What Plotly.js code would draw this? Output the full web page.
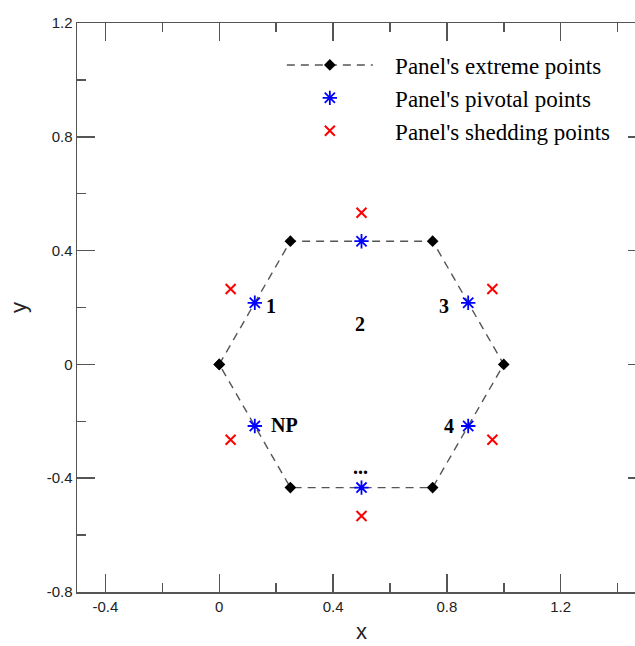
<!DOCTYPE html>
<html>
<head>
<meta charset="utf-8">
<script src="https://cdn.plot.ly/plotly-3.0.1.min.js"></script>
<style>
html,body{margin:0;padding:0;overflow:hidden;background:#fff;width:635px;height:646px;}
#chart{width:650px;height:646px;}
</style>
</head>
<body>
<div id="chart"></div>
<script>
// Panel extreme points (hexagon vertices, closed)
const extremeX = [0, 0.25, 0.75, 1, 0.75, 0.25, 0];
const extremeY = [0, 0.433, 0.433, 0, -0.433, -0.433, 0];
// Panel pivotal points
const pivotX = [0.125, 0.5, 0.875, 0.875, 0.5, 0.125];
const pivotY = [0.2165, 0.433, 0.2165, -0.2165, -0.433, -0.2165];
// Panel shedding points
const shedX = [0.04, 0.5, 0.96, 0.96, 0.5, 0.04];
const shedY = [0.265, 0.533, 0.265, -0.265, -0.533, -0.265];
// Panel labels
const labelText = ['1', '2', '3', '4', 'NP', '...'];
const labelX = [0.183, 0.494, 0.79, 0.806, 0.23, 0.497];
const labelY = [0.207, 0.142, 0.207, -0.218, -0.214, -0.36];
// Legend names
const seriesNames = ["Panel's extreme points", "Panel's pivotal points", "Panel's shedding points"];
// Tick labels
const xTickVals = [-0.4, 0, 0.4, 0.8, 1.2];
const xTickText = ['-0.4', '0', '0.4', '0.8', '1.2'];
const yTickVals = [-0.8, -0.4, 0, 0.4, 0.8, 1.2];
const yTickText = ['-0.8', '-0.4', '0', '0.4', '0.8', '1.2'];

const pad = '\u00a0\u00a0\u00a0';

const traces = [
  {
    x: extremeX, y: extremeY, name: pad + seriesNames[0], type: 'scatter', mode: 'lines+markers',
    line: {color: '#555555', width: 1.4, dash: '8px,6px'},
    marker: {symbol: 'diamond', size: 9, color: '#000000'}
  },
  {
    x: pivotX, y: pivotY, name: pad + seriesNames[1], type: 'scatter', mode: 'markers',
    marker: {symbol: 'asterisk-open', size: 12, color: '#0000ff', line: {color: '#0000ff', width: 1.8}}
  },
  {
    x: shedX, y: shedY, name: pad + seriesNames[2], type: 'scatter', mode: 'markers',
    marker: {symbol: 'x-thin-open', size: 10, color: '#ff0000', line: {color: '#ff0000', width: 2}}
  }
];

const annotations = labelText.map((t, i) => ({
  x: labelX[i], y: labelY[i], xref: 'x', yref: 'y', text: '<b>' + t + '</b>',
  showarrow: false, font: {family: 'Liberation Serif, serif', size: 20, color: '#000'}
}));

const axisCommon = {
  showgrid: false, zeroline: false, showline: true, linecolor: '#555555', linewidth: 1.5,
  mirror: 'ticks', ticks: 'inside', ticklen: 18, tickwidth: 1.5, tickcolor: '#555555',
  tickmode: 'array', tickfont: {family: 'Liberation Sans, Arial, sans-serif', size: 15, color: '#222'},
  minor: {tickmode: 'linear', tick0: 0, dtick: 0.2, ticks: 'inside', ticklen: 9, tickwidth: 1.5, tickcolor: '#555555'}
};

const layout = {
  width: 650, height: 646,
  margin: {l: 77, r: 4, t: 23, b: 54},
  paper_bgcolor: '#fff', plot_bgcolor: '#fff',
  showlegend: true,
  xaxis: Object.assign({}, axisCommon, {
    range: [-0.5, 1.5], tickvals: xTickVals, ticktext: xTickText,
    title: {text: 'x', font: {family: 'Liberation Sans, Arial, sans-serif', size: 22, color: '#222'}, standoff: 10}
  }),
  yaxis: Object.assign({}, axisCommon, {
    range: [-0.8, 1.2], tickvals: yTickVals, ticktext: yTickText,
    title: {text: 'y', font: {family: 'Liberation Sans, Arial, sans-serif', size: 22, color: '#222'}, standoff: 14}
  }),
  legend: {
    x: 0.36, y: 0.964, xanchor: 'left', yanchor: 'top',
    bgcolor: 'rgba(0,0,0,0)', borderwidth: 0, itemwidth: 86,
    font: {family: 'Liberation Serif, serif', size: 23, color: '#000'},
    tracegroupgap: 0
  },
  annotations: annotations
};

Plotly.newPlot('chart', traces, layout, {displayModeBar: false, staticPlot: true});
</script>
</body>
</html>
